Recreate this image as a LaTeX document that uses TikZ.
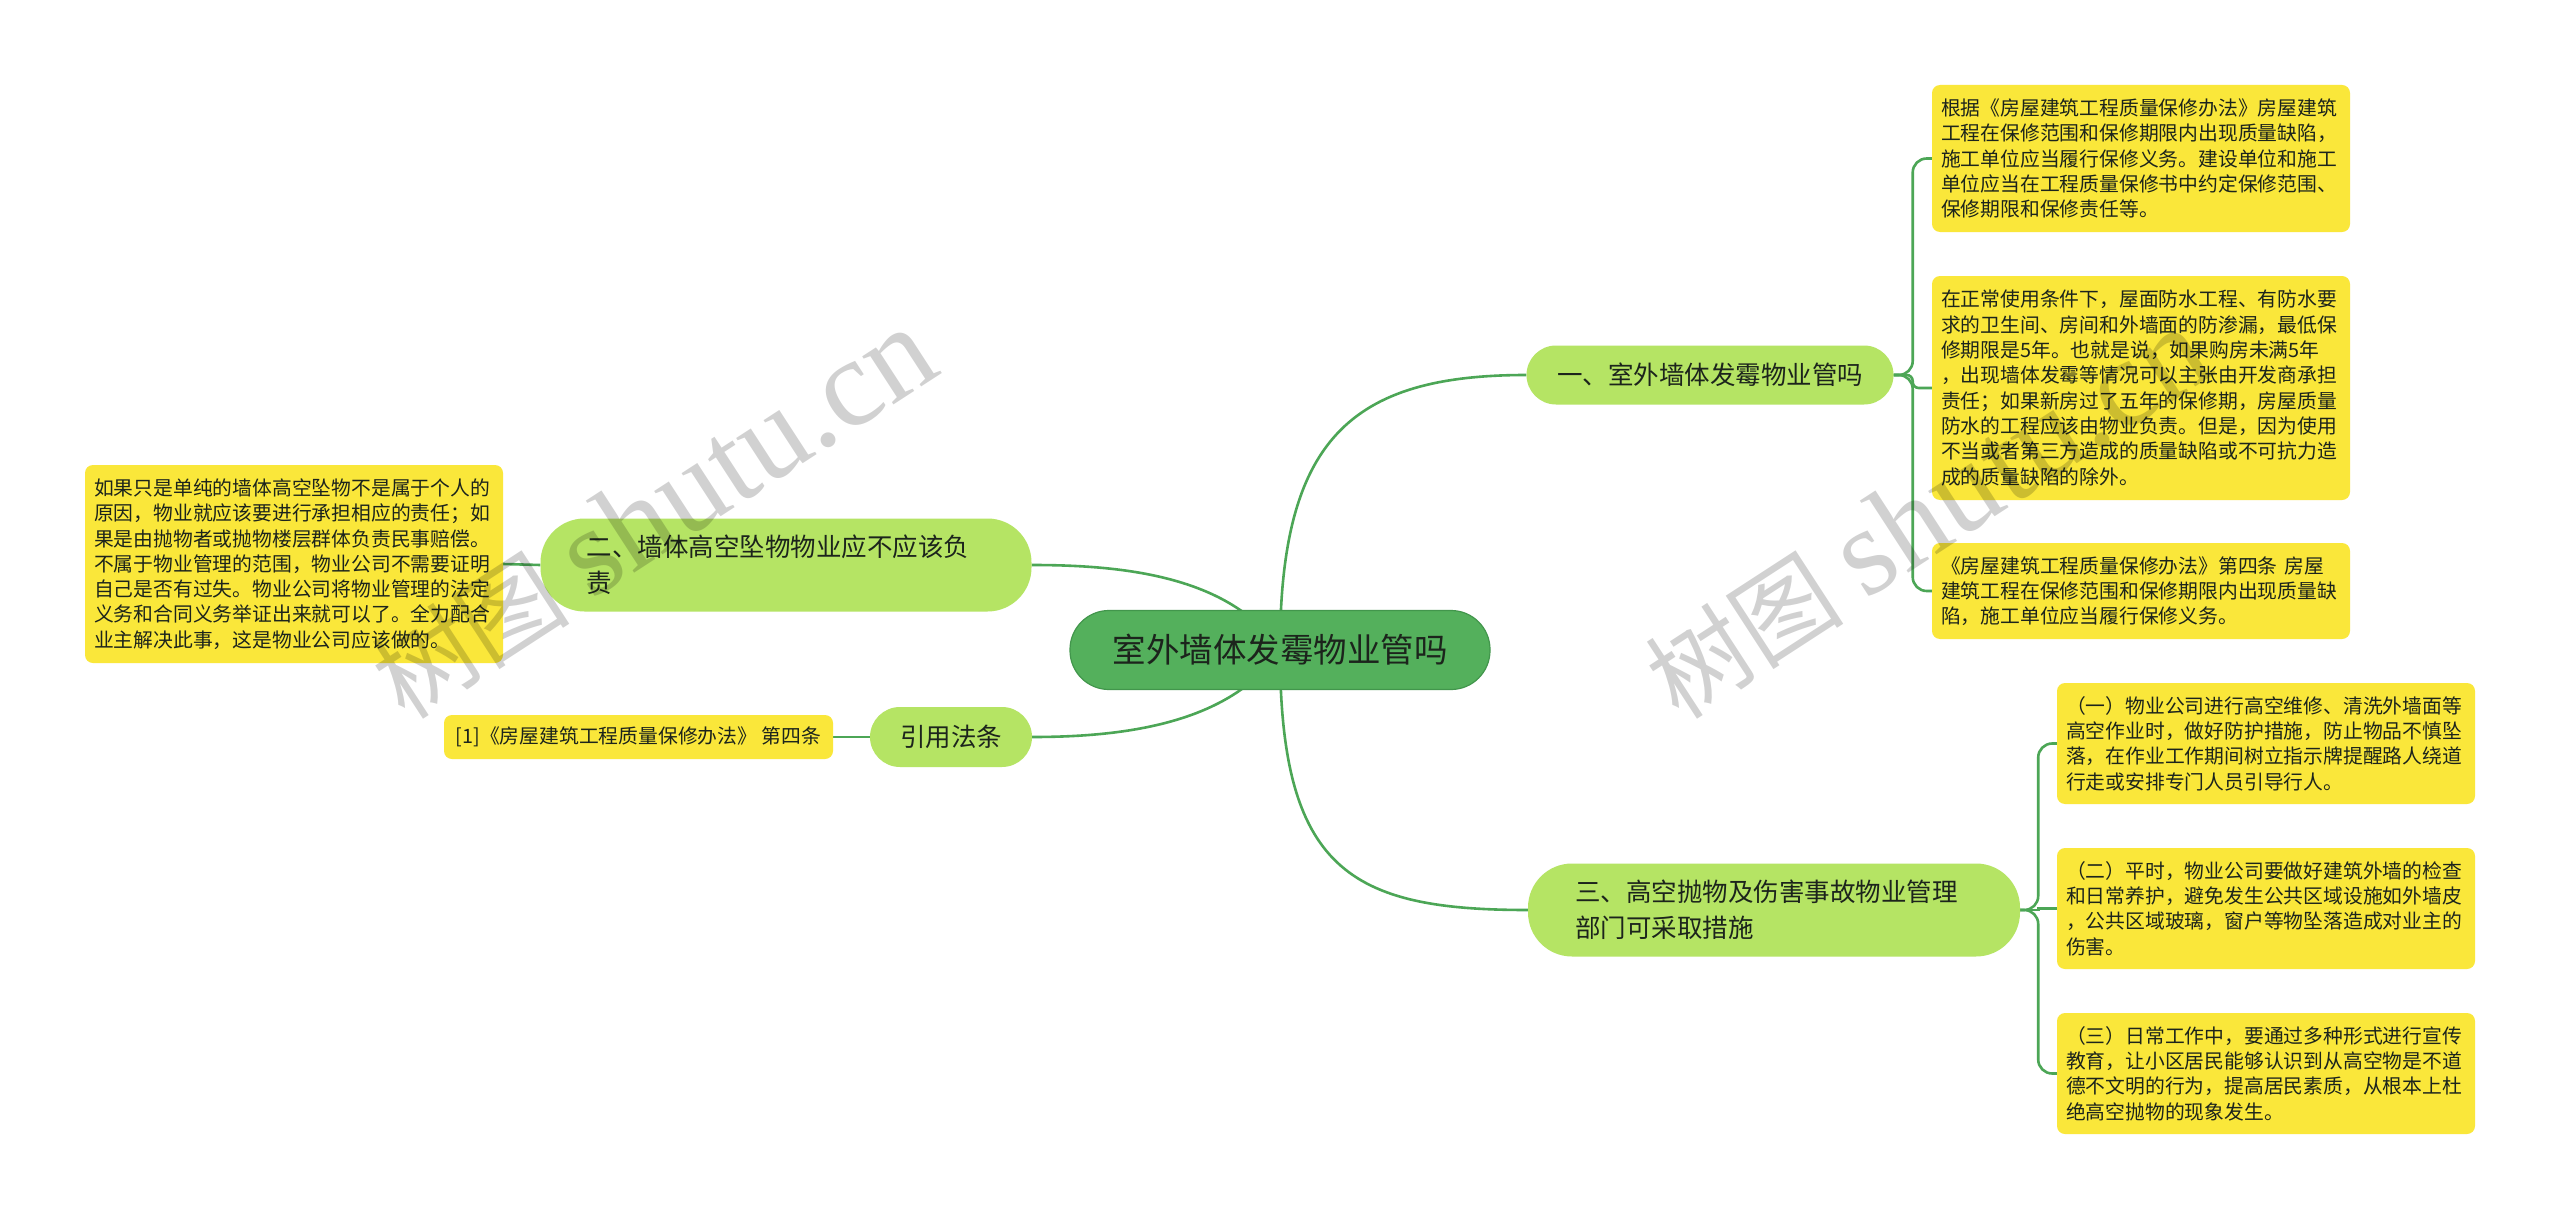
\documentclass[tikz,border=0pt]{standalone}
\usepackage{fontspec}
\setmainfont{Noto Sans CJK SC}
\newfontfamily\wmserif{Liberation Serif}
\definecolor{rootgreen}{RGB}{84,176,92}
\definecolor{rootborder}{RGB}{66,150,76}
\definecolor{branchgreen}{RGB}{181,228,100}
\definecolor{leafyellow}{RGB}{250,231,58}
\definecolor{linegreen}{RGB}{76,166,86}
\definecolor{txt}{RGB}{28,36,28}
\pgfdeclarelayer{bg}
\pgfdeclarelayer{paper}
\pgfsetlayers{paper,bg,main}
\begin{document}
\begin{tikzpicture}[x=1pt,y=-1pt,
  rootnode/.style={fill=rootgreen, draw=rootborder, line width=1.2pt, rounded corners=39pt,
    minimum width=420pt, minimum height=79pt, inner sep=0pt, text=txt,
    font=\fontsize{33.5}{40}\selectfont},
  branchnode/.style={fill=branchgreen, inner sep=0pt, text=txt,
    font=\fontsize{25.5}{36}\selectfont},
  leafnode/.style={fill=leafyellow, rounded corners=8pt, inner xsep=9pt, inner ysep=0pt,
    text width=400pt, align=left, minimum width=418pt, text=txt,
    font=\fontsize{19.8}{25.3}\selectfont},
  conn/.style={draw=linegreen, line width=2.6pt},
  wm/.style={text=black, opacity=0.18, inner sep=0pt, font=\fontsize{100}{110}\selectfont}
]
\begin{pgfonlayer}{paper}
\path[fill=white, use as bounding box] (0,0) rectangle (2560,1220);
\end{pgfonlayer}

% root
\node[rootnode] (root) at (1280,650) {室外墙体发霉物业管吗};

% branches
\node[branchnode, rounded corners=29.5pt, minimum width=367pt, minimum height=59pt] (b1) at (1710,375) {一、室外墙体发霉物业管吗};
\node[branchnode, rounded corners=44pt, minimum width=491pt, minimum height=93pt, inner xsep=46pt, text width=399pt, align=left] (b2) at (786,565) {二、墙体高空坠物物业应不应该负\\责};
\node[branchnode, rounded corners=30pt, minimum width=162pt, minimum height=60pt] (b3) at (951,737) {引用法条};
\node[branchnode, rounded corners=44pt, minimum width=492pt, minimum height=93pt, inner xsep=47pt, text width=398pt, align=left] (b4) at (1774,910) {三、高空抛物及伤害事故物业管理\\部门可采取措施};

% leaves of branch 1
\node[leafnode, minimum height=147pt] (l1) at (2141,158.5) {根据《房屋建筑工程质量保修办法》房屋建筑\\工程在保修范围和保修期限内出现质量缺陷，\\施工单位应当履行保修义务。建设单位和施工\\单位应当在工程质量保修书中约定保修范围、\\保修期限和保修责任等。};
\node[leafnode, minimum height=224pt] (l2) at (2141,388) {在正常使用条件下，屋面防水工程、有防水要\\求的卫生间、房间和外墙面的防渗漏，最低保\\修期限是5年。也就是说，如果购房未满5年\\，出现墙体发霉等情况可以主张由开发商承担\\责任；如果新房过了五年的保修期，房屋质量\\防水的工程应该由物业负责。但是，因为使用\\不当或者第三方造成的质量缺陷或不可抗力造\\成的质量缺陷的除外。};
\node[leafnode, minimum height=96pt] (l3) at (2141,591) {《房屋建筑工程质量保修办法》第四条 房屋\\建筑工程在保修范围和保修期限内出现质量缺\\陷，施工单位应当履行保修义务。};

% leaves of branch 4
\node[leafnode, minimum height=121pt] (l4) at (2266,743.5) {（一）物业公司进行高空维修、清洗外墙面等\\高空作业时，做好防护措施，防止物品不慎坠\\落，在作业工作期间树立指示牌提醒路人绕道\\行走或安排专门人员引导行人。};
\node[leafnode, minimum height=121pt] (l5) at (2266,908.5) {（二）平时，物业公司要做好建筑外墙的检查\\和日常养护，避免发生公共区域设施如外墙皮\\，公共区域玻璃，窗户等物坠落造成对业主的\\伤害。};
\node[leafnode, minimum height=121pt] (l6) at (2266,1073.5) {（三）日常工作中，要通过多种形式进行宣传\\教育，让小区居民能够认识到从高空物是不道\\德不文明的行为，提高居民素质，从根本上杜\\绝高空抛物的现象发生。};

% left leaves
\node[leafnode, minimum height=198pt] (l7) at (294,564) {如果只是单纯的墙体高空坠物不是属于个人的\\原因，物业就应该要进行承担相应的责任；如\\果是由抛物者或抛物楼层群体负责民事赔偿。\\不属于物业管理的范围，物业公司不需要证明\\自己是否有过失。物业公司将物业管理的法定\\义务和合同义务举证出来就可以了。全力配合\\业主解决此事，这是物业公司应该做的。};
\node[fill=leafyellow, rounded corners=8pt, inner sep=0pt, minimum width=389pt, minimum height=44pt, text=txt, font=\fontsize{19.8}{25.3}\selectfont] (l8) at (638.5,737) {[1]《房屋建筑工程质量保修办法》 第四条};

% connectors
\begin{pgfonlayer}{bg}
\draw[conn] (root.center) .. controls (1280,440) and (1350,375) .. (b1.west);
\draw[conn] (root.center) .. controls (1230,575) and (1120,565) .. (b2.east);
\draw[conn] (root.center) .. controls (1230,725) and (1120,737) .. (b3.east);
\draw[conn] (root.center) .. controls (1280,870) and (1350,910) .. (b4.west);
\draw[conn, rounded corners=14pt] (b1.east) -- ++(19,0) |- (l1.west);
\draw[conn, rounded corners=6pt] (b1.east) -- ++(19,0) |- (l2.west);
\draw[conn, rounded corners=14pt] (b1.east) -- ++(19,0) |- (l3.west);
\draw[conn, rounded corners=14pt] (b4.east) -- ++(18,0) |- (l4.west);
\draw[conn] (b4.east) -- ++(18,0) |- (l5.west);
\draw[conn, rounded corners=14pt] (b4.east) -- ++(18,0) |- (l6.west);
\draw[conn] (l7.east) -- (b2.west);
\draw[conn] (l8.east) -- (b3.west);
\end{pgfonlayer}

% watermarks
\node[wm, rotate=33] (wm1) at (653,514) {树图 {\wmserif\fontsize{125}{130}\selectfont shutu.cn}};
\node[wm, rotate=33] (wm2) at (1927,514) {树图 {\wmserif\fontsize{125}{130}\selectfont shutu.cn}};
\end{tikzpicture}
\end{document}
